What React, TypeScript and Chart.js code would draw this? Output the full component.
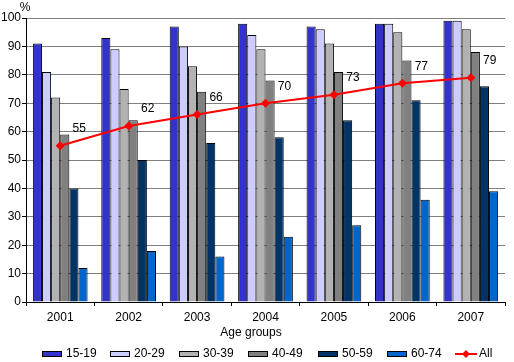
import React, { useEffect, useRef } from "react";
import { Chart, registerables } from "chart.js";

Chart.register(...registerables);

const categories = ["2001", "2002", "2003", "2004", "2005", "2006", "2007"];
const s1519 = [91, 93, 97, 98, 97, 98, 99];
const s2029 = [81, 89, 90, 94, 96, 98, 99];
const s3039 = [72, 75, 83, 89, 91, 95, 96];
const s4049 = [59, 64, 74, 78, 81, 85, 88];
const s5059 = [40, 50, 56, 58, 64, 71, 76];
const s6074 = [12, 18, 16, 23, 27, 36, 39];
const sAll = [55, 62, 66, 70, 73, 77, 79];
const yTicks = [0, 10, 20, 30, 40, 50, 60, 70, 80, 90, 100];

const seriesNames = ["15-19", "20-29", "30-39", "40-49", "50-59", "60-74"];
const seriesColors = ["#3333CC", "#CCCCFF", "#B2B2B2", "#808080", "#003366", "#0066CC"];
const FONT = "'Liberation Sans', Arial, sans-serif";

const extrasPlugin = {
  id: "extras",
  afterDatasetsDraw(chart: any) {
    const ctx = chart.ctx;
    ctx.save();
    // value labels for All
    const meta = chart.getDatasetMeta(6);
    ctx.fillStyle = "#000";
    ctx.font = `12px ${FONT}`;
    ctx.textAlign = "center";
    ctx.textBaseline = "middle";
    meta.data.forEach((pt: any, i: number) => {
      ctx.fillText(String(sAll[i]), pt.x + 19, pt.y - 17);
    });
    ctx.restore();
  },
  afterDraw(chart: any) {
    const ctx = chart.ctx;
    ctx.save();
    ctx.fillStyle = "#000";
    ctx.font = `12px ${FONT}`;
    ctx.textBaseline = "middle";
    ctx.textAlign = "center";
    ctx.fillText("%", 25, 8);
    ctx.fillText("Age groups", 251, 333);
    // legend
    const y = 354;
    const starts = [42, 110, 179, 248, 318, 387];
    ctx.textAlign = "left";
    seriesNames.forEach((n, i) => {
      const x = starts[i];
      ctx.fillStyle = seriesColors[i];
      ctx.fillRect(x, y - 3, 20, 6);
      ctx.strokeStyle = "#000";
      ctx.lineWidth = 1;
      ctx.strokeRect(x + 0.5, y - 2.5, 19, 5);
      ctx.fillStyle = "#000";
      ctx.fillText(n, x + 24, y);
    });
    // All legend
    const lx = 455;
    ctx.strokeStyle = "#FF0000";
    ctx.lineWidth = 2;
    ctx.beginPath();
    ctx.moveTo(lx, y);
    ctx.lineTo(lx + 22, y);
    ctx.stroke();
    ctx.fillStyle = "#FF0000";
    ctx.beginPath();
    ctx.moveTo(lx + 11, y - 4);
    ctx.lineTo(lx + 15, y);
    ctx.lineTo(lx + 11, y + 4);
    ctx.lineTo(lx + 7, y);
    ctx.closePath();
    ctx.fill();
    ctx.fillStyle = "#000";
    ctx.fillText("All", lx + 24, y);
    ctx.restore();
  },
};

export default function App() {
  const ref = useRef<HTMLCanvasElement>(null);
  useEffect(() => {
    document.body.style.margin = "0";
    const seriesData = [s1519, s2029, s3039, s4049, s5059, s6074];
    const datasets: any[] = seriesData.map((d, i) => ({
      type: "bar",
      label: seriesNames[i],
      data: d,
      backgroundColor: seriesColors[i],
      borderColor: "#000",
      borderWidth: 1,
      categoryPercentage: 0.8,
      barPercentage: 1.0,
      order: 2,
    }));
    datasets.push({
      type: "line",
      label: "All",
      data: sAll,
      borderColor: "#FF0000",
      backgroundColor: "#FF0000",
      borderWidth: 2,
      pointStyle: "rectRot",
      pointRadius: 4.5,
      pointBorderWidth: 0,
      tension: 0,
      order: 1,
    });
    const chart = new Chart(ref.current!, {
      type: "bar",
      data: { labels: categories, datasets },
      plugins: [extrasPlugin],
      options: {
        animation: false,
        responsive: false,
        maintainAspectRatio: false,
        layout: { padding: { top: 18, right: 9, bottom: 38, left: 0 } },
        plugins: { legend: { display: false }, tooltip: { enabled: false } },
        scales: {
          x: {
            offset: true,
            grid: {
              offset: true,
              drawOnChartArea: false,
              drawTicks: true,
              tickLength: 4,
              tickColor: "#000",
            },
            border: { color: "#000" },
            ticks: { color: "#000", font: { family: FONT, size: 12 }, padding: 4 },
            afterFit(scale: any) {
              scale.height = 22;
            },
          },
          y: {
            min: 0,
            max: 100,
            afterBuildTicks(scale: any) {
              scale.ticks = yTicks.map((v) => ({ value: v }));
            },
            grid: { color: "#808080", tickLength: 4, tickColor: "#000" },
            border: { color: "#000" },
            ticks: { color: "#000", font: { family: FONT, size: 12 }, padding: 1 },
            afterFit(scale: any) {
              scale.width = 26;
            },
          },
        },
      },
    } as any);
    return () => chart.destroy();
  }, []);
  return <canvas ref={ref} width={514} height={362} style={{ display: "block" }} />;
}
